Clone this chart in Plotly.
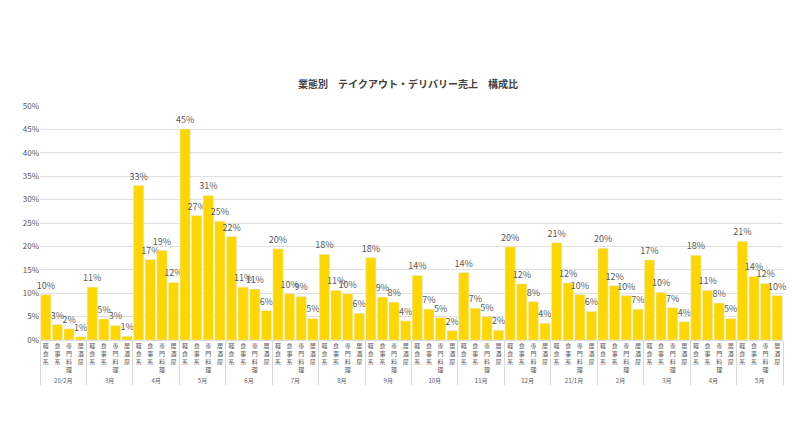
import plotly.graph_objects as go

months = ["20/2月","3月","4月","5月","6月","7月","8月","9月","10月","11月","12月","21/1月","2月","3月","4月","5月"]
cats = ["軽<br>食<br>系","食<br>事<br>系","専<br>門<br>料<br>理","居<br>酒<br>屋"]
vals = [
 [9.7,3.3,2.4,0.7],[11.3,4.5,3.1,0.8],[33,17.2,19.1,12.3],[45.1,26.6,30.9,25.4],
 [22.1,11.3,10.9,6.3],[19.5,9.9,9.3,4.6],[18.3,10.6,9.9,5.7],[17.6,9.2,8.1,4.1],
 [13.8,6.6,4.8,2.0],[14.4,6.8,5.0,2.1],[19.9,12.0,8.2,3.6],[20.8,12.2,9.7,6.1],
 [19.6,11.6,9.5,6.6],[17.1,10.2,6.9,3.9],[18.1,10.6,7.9,4.6],[21.1,13.6,12.1,9.5],
]
labels = [
 ["10%","3%","2%","1%"],["11%","5%","3%","1%"],["33%","17%","19%","12%"],["45%","27%","31%","25%"],
 ["22%","11%","11%","6%"],["20%","10%","9%","5%"],["18%","11%","10%","6%"],["18%","9%","8%","4%"],
 ["14%","7%","5%","2%"],["14%","7%","5%","2%"],["20%","12%","8%","4%"],["21%","12%","10%","6%"],
 ["20%","12%","10%","7%"],["17%","10%","7%","4%"],["18%","11%","8%","5%"],["21%","14%","12%","10%"],
]

x0, x1, y, t = [], [], [], []
for i, (m, vs, ls) in enumerate(zip(months, vals, labels)):
    key = m + "\u200b" * i  # keep repeated month names as separate groups
    for c, v, l in zip(cats, vs, ls):
        x0.append(key); x1.append(c); y.append(v / 100); t.append(l)

fig = go.Figure(go.Bar(
    x=[x0, x1], y=y, text=t, textposition="outside", cliponaxis=False,
    textfont=dict(size=9, color="#595959"), marker_color="#FFD700",
))
fig.update_layout(
    width=800, height=432, plot_bgcolor="white", paper_bgcolor="white",
    margin=dict(l=32, r=25, t=98, b=100), bargap=0.12, showlegend=False,
    font=dict(family="Noto Sans CJK JP", color="#595959", size=8),
    title=dict(text="<b>業態別　テイクアウト・デリバリー売上　構成比</b>", x=0.5, y=0.83,
               xanchor="center", font=dict(size=10, color="#404040")),
    uniformtext=dict(minsize=8, mode="show"),
)
fig.update_yaxes(range=[0, 0.5], dtick=0.05, tickformat=".0%", gridcolor="#E0E0E0",
                 zeroline=False, tickfont=dict(size=8, color="#595959"))
fig.update_xaxes(tickfont=dict(size=6, color="#595959"), tickangle=0, showdividers=True,
                 dividercolor="#D9D9D9", linecolor="#D9D9D9", showline=True)
fig.write_html("out.html")
